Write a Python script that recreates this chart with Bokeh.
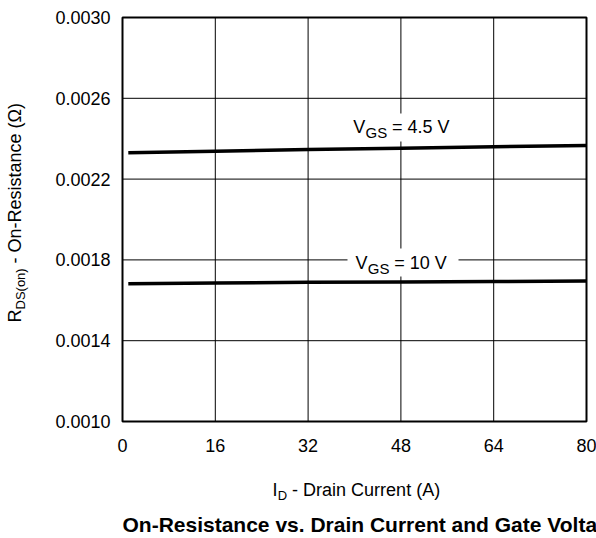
import math
from bokeh.plotting import figure
from bokeh.models import (Range1d, FixedTicker, PrintfTickFormatter, Label,
                          BoxAnnotation)
from bokeh.embed import file_html
from bokeh.resources import INLINE

# ---------------- data ----------------
x_ticks = [0, 16, 32, 48, 64, 80]
y_ticks = [0.0010, 0.0014, 0.0018, 0.0022, 0.0026, 0.0030]

id_45 = [1, 16, 32, 48, 64, 80]
rds_45 = [0.002330, 0.002338, 0.002346, 0.002353, 0.002360, 0.002366]

id_10 = [1, 16, 32, 48, 64, 80]
rds_10 = [0.001682, 0.001686, 0.001689, 0.001691, 0.001693, 0.001695]

X0, X1 = 0, 80
Y0, Y1 = 0.0010, 0.0030

# ---------------- layout ----------------
W, H = 596, 538
FL, FR, FT, FB = 122, 586, 17, 421  # plot-area box in canvas px
FONT = "Liberation Sans"


def xd(px):  # canvas px -> data x
    return X0 + (px - FL) / (FR - FL) * (X1 - X0)


def yd(py):  # canvas px -> data y
    return Y0 + (FB - py) / (FB - FT) * (Y1 - Y0)


# the frame spans the whole canvas; the plot area is [X0,X1]x[Y0,Y1]
p = figure(width=W, height=H, output_backend="svg", toolbar_location=None,
           x_range=Range1d(xd(0), xd(W)), y_range=Range1d(yd(H), yd(0)),
           min_border_left=0, min_border_right=0,
           min_border_top=0, min_border_bottom=0)
p.background_fill_color = "white"
p.border_fill_color = "white"
p.outline_line_color = None
p.xgrid.visible = False
p.ygrid.visible = False

for ax, ticks, loc in ((p.xaxis[0], x_ticks, Y0), (p.yaxis[0], y_ticks, X0)):
    ax.fixed_location = loc
    ax.ticker = FixedTicker(ticks=ticks)
    ax.axis_line_color = None
    ax.major_tick_line_color = None
    ax.minor_tick_line_color = None
    ax.major_tick_out = 0
    ax.major_tick_in = 0
    ax.major_label_text_font = FONT
    ax.major_label_text_font_size = "18px"
    ax.major_label_text_color = "black"
p.yaxis[0].formatter = PrintfTickFormatter(format="%.4f")
p.yaxis[0].major_label_standoff = 12
p.xaxis[0].major_label_standoff = 17

# grid lines at the tick values, bounded to the plot area
p.segment(x0=x_ticks, y0=[Y0] * len(x_ticks), x1=x_ticks, y1=[Y1] * len(x_ticks),
          line_color="black", line_width=1)
p.segment(x0=[X0] * len(y_ticks), y0=y_ticks, x1=[X1] * len(y_ticks), y1=y_ticks,
          line_color="black", line_width=1)
# plot-area border
p.quad(left=[X0], right=[X1], bottom=[Y0], top=[Y1], fill_color=None,
       line_color="black", line_width=2)

# curves
p.line(id_45, rds_45, line_color="black", line_width=3.5)
p.line(id_10, rds_10, line_color="black", line_width=3.5)

# white boxes behind curve labels
p.add_layout(BoxAnnotation(left=xd(345), right=xd(460), top=yd(113), bottom=yd(141),
                           fill_color="white", fill_alpha=1, line_color=None))
p.add_layout(BoxAnnotation(left=xd(347), right=xd(458), top=yd(248), bottom=yd(276),
                           fill_color="white", fill_alpha=1, line_color=None))


def lab(text, px, base, size, bold=False, angle=0.0):
    # anchor at middle of text box: shift from baseline by ~0.39*size
    sh = 0.39 * size
    if angle:
        ax_, ay_ = base - sh, px
    else:
        ax_, ay_ = px, base - sh
    p.add_layout(Label(x=xd(ax_), y=yd(ay_), text=text,
                       text_font=FONT, text_font_size=f"{size}px",
                       text_font_style="bold" if bold else "normal",
                       text_color="black", text_align="left",
                       text_baseline="middle", angle=angle))


# curve labels
lab("V", 352.7, 134, 18)
lab("GS", 365, 137.5, 15)
lab("= 4.5 V", 391.5, 134, 18)

lab("V", 355, 270, 18)
lab("GS", 367.3, 273.5, 15)
lab("= 10 V", 393.8, 270, 18)

# x axis label
lab("I", 272, 497, 18)
lab("D", 277.3, 500.5, 13)
lab("- Drain Current (A)", 291.6, 497, 18)

# y axis label (rotated)
rot = math.pi / 2
lab("R", 322, 21.5, 18, angle=rot)
lab("DS(on)", 309, 25, 13, angle=rot)
lab("- On-Resistance (\u03a9)", 263, 21.5, 18, angle=rot)

# title
lab("On-Resistance vs. Drain Current and Gate Voltage", 122, 532, 21, bold=True)

open("out.html", "w").write(file_html(p, INLINE))
